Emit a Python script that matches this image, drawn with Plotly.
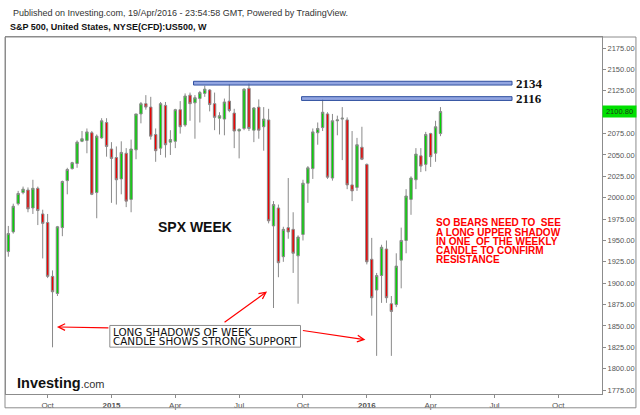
import pandas as pd
import plotly.graph_objects as go

# weekly S&P 500 CFD candles, first week starts 2014-08-11
week_start = "2014-08-11"
opens = [1937, 1960, 1993, 2006, 2009, 1988, 2011, 1981, 1971, 1908,
         1888, 1965, 2020, 2034, 2040, 2066, 2067, 2076, 2006, 2070,
         2088, 2057, 2047, 2022, 2052, 1998, 2056, 2098, 2110, 2106,
         2074, 2058, 2108, 2065, 2066, 2103, 2085, 2120, 2111, 2116,
         2122, 2126, 2110, 2093, 2092, 2113, 2099, 2078, 2081, 2128,
         2079, 2106, 2083, 2091, 1967, 1988, 1931, 1965, 1963, 1932,
         1957, 2017, 2034, 2076, 2082, 2098, 2023, 2090, 2092, 2091,
         2015, 2012, 2059, 2039, 1928, 1892, 1909, 1940, 1876, 1875,
         1927, 1950, 1998, 2021, 2049, 2039, 2075, 2052, 2075]
highs = [1967, 1993, 2008, 2013, 2012, 2021, 2013, 1986, 1981, 1915,
         1967, 2020, 2035, 2042, 2067, 2078, 2081, 2078, 2074, 2093,
         2093, 2065, 2060, 2066, 2058, 2068, 2098, 2112, 2120, 2118,
         2081, 2112, 2112, 2079, 2104, 2113, 2122, 2123, 2120, 2125,
         2131, 2127, 2123, 2100, 2116, 2133, 2104, 2081, 2128, 2134,
         2106, 2115, 2106, 2104, 1996, 1992, 1966, 2023, 1983, 1956,
         2021, 2037, 2081, 2088, 2115, 2100, 2098, 2096, 2106, 2094,
         2078, 2070, 2083, 2040, 1953, 1912, 1945, 1950, 1885, 1935,
         1965, 2010, 2025, 2058, 2058, 2077, 2076, 2090, 2106]
lows = [1931, 1958, 1991, 2004, 1983, 1981, 1968, 1929, 1906, 1825,
        1885, 1955, 2004, 2033, 2035, 2065, 2052, 2003, 1976, 2069,
        2048, 1994, 1992, 2004, 1989, 1983, 2045, 2087, 2103, 2068,
        2042, 2050, 2047, 2050, 2058, 2075, 2083, 2090, 2069, 2088,
        2118, 2101, 2079, 2074, 2073, 2100, 2058, 2046, 2079, 2078,
        2065, 2069, 2055, 1970, 1871, 1907, 1925, 1952, 1912, 1876,
        1950, 1994, 2022, 2062, 2078, 2022, 2020, 2073, 2044, 2010,
        1996, 2008, 2044, 1922, 1862, 1815, 1877, 1877, 1815, 1872,
        1894, 1935, 1980, 2010, 2030, 2031, 2036, 2042, 2072]
closes = [1958, 1990, 2005, 2010, 1987, 2011, 1985, 1970, 1908, 1890,
          1966, 2019, 2033, 2041, 2065, 2069, 2077, 2004, 2072, 2090,
          2060, 2046, 2021, 2053, 1996, 2057, 2098, 2110, 2106, 2072,
          2055, 2110, 2062, 2068, 2103, 2083, 2119, 2110, 2117, 2123,
          2127, 2109, 2094, 2096, 2112, 2102, 2078, 2080, 2127, 2081,
          2105, 2079, 2092, 1973, 1992, 1924, 1963, 1960, 1935, 1954,
          2017, 2035, 2077, 2081, 2100, 2024, 2090, 2091, 2093, 2015,
          2008, 2062, 2045, 1925, 1883, 1909, 1942, 1883, 1867, 1920,
          1950, 2002, 2023, 2051, 2037, 2074, 2048, 2083, 2100.8]
dates = pd.date_range(week_start, periods=len(opens), freq="7D")

tick_dates = ["2014-10-06", "2015-01-05", "2015-04-06", "2015-07-06", "2015-10-05",
              "2016-01-04", "2016-04-04", "2016-07-04", "2016-10-03"]
tick_labels = ["Oct", "<b>2015</b>", "Apr", "Jul", "Oct", "<b>2016</b>", "Apr", "Jul", "Oct"]
price_ticks = [1775, 1800, 1825, 1850, 1875, 1900, 1925, 1950, 1975, 2000,
               2025, 2050, 2075, 2125, 2150, 2175]
last_price = 2100.80
levels = [2134, 2116]
level_starts = ["2015-05-02", "2015-10-03"]
level_end = "2016-07-29"

note_lines = ["SO BEARS NEED TO\u00a0\u00a0SEE", "A LONG UPPER SHADOW",
              "IN ONE\u00a0\u00a0OF THE WEEKLY", "CANDLE TO CONFIRM", "RESISTANCE"]
box_lines = ["LONG SHADOWS OF WEEK", "CANDLE SHOWS STRONG SUPPORT"]

W, H = 640, 415
L, R, T, B = 5, 602, 37, 399


def px(x):
    return (x - L) / (R - L)


def py(y):
    return (B - y) / (B - T)


SANS = "Liberation Sans, Arial, sans-serif"

fig = go.Figure()
fig.add_trace(go.Candlestick(
    x=dates, open=opens, high=highs, low=lows, close=closes,
    increasing=dict(fillcolor="#00d400", line=dict(color="#8a8a8a", width=1)),
    decreasing=dict(fillcolor="#ee0000", line=dict(color="#8a8a8a", width=1)),
    whiskerwidth=0, showlegend=False, hoverinfo="skip",
))

shapes = []
for lv, st in zip(levels, level_starts):
    shapes.append(dict(type="rect", xref="x", yref="y", x0=st, x1=level_end,
                       y0=lv - 2.2, y1=lv + 2.2,
                       fillcolor="rgba(110,135,215,0.75)",
                       line=dict(color="#2f4f9f", width=1)))
# outer frame
shapes.append(dict(type="rect", xref="paper", yref="paper",
                   x0=px(4), x1=px(636), y0=py(413), y1=py(37),
                   line=dict(color="#8c8c8c", width=1)))
# support note box
shapes.append(dict(type="rect", xref="paper", yref="paper",
                   x0=px(109), x1=px(300), y0=py(351.5), y1=py(329.5),
                   fillcolor="white", line=dict(color="#8c8c8c", width=1)))

ann = []
ann.append(dict(xref="paper", yref="paper", x=px(10), y=py(13), xanchor="left",
                yanchor="middle", showarrow=False,
                text="Published on Investing.com, 19/Apr/2016 - 23:54:58 GMT, Powered by TradingView.",
                font=dict(family=SANS, size=9, color="#333333")))
ann.append(dict(xref="paper", yref="paper", x=px(7), y=py(27), xanchor="left",
                yanchor="middle", showarrow=False,
                text="<b>S&P 500, United States, NYSE(CFD):US500, W</b>",
                font=dict(family=SANS, size=9, color="#111111")))
ann.append(dict(xref="paper", yref="paper", x=px(155), y=py(230), xanchor="left",
                yanchor="middle", showarrow=False, text="<b>SPX WEEK</b>",
                font=dict(family=SANS, size=14, color="#111111")))
for i, line in enumerate(note_lines):
    ann.append(dict(xref="paper", yref="paper", x=px(434), y=py(225.5 + 9.3 * i),
                    xanchor="left", yanchor="middle", showarrow=False,
                    text="<b>" + line + "</b>",
                    font=dict(family=SANS, size=10, color="#ff0000")))
for i, line in enumerate(box_lines):
    ann.append(dict(xref="paper", yref="paper", x=px(110), y=py(336 + 9.3 * i),
                    xanchor="left", yanchor="middle", showarrow=False, text=line,
                    font=dict(family="DejaVu Sans, Verdana, sans-serif", size=10.4,
                              color="#111111")))
for lv in levels:
    ann.append(dict(xref="paper", yref="y", x=px(514), y=lv, xanchor="left",
                    yanchor="middle", showarrow=False, text="<b>%d</b>" % lv,
                    font=dict(family="Liberation Serif, Times New Roman, serif",
                              size=13, color="#111111")))
# arrows from the note box
for hx, hy, ax, ay in [(56, 331, 53, 1), (266.5, 295, -44, 32), (365, 344, -64, -9.5)]:
    ann.append(dict(xref="paper", yref="paper", x=px(hx), y=py(hy), ax=ax, ay=ay,
                    showarrow=True, arrowhead=5, arrowsize=1.1, arrowwidth=1.2,
                    arrowcolor="#ff0000", text=""))
# last price tag
ann.append(dict(xref="paper", yref="y", x=1, y=last_price, xanchor="left",
                yanchor="middle", showarrow=False, text="%.2f" % last_price,
                bgcolor="#00e000", borderpad=1, width=31, align="center",
                font=dict(family=SANS, size=7.5, color="#1a3a1a")))
# logo
ann.append(dict(xref="paper", yref="paper", x=px(14), y=py(388), xanchor="left",
                yanchor="middle", showarrow=False,
                text="<b>Investing</b><span style='font-size:11px;color:#333333'>.com</span>",
                font=dict(family=SANS, size=14.5, color="#111111")))

fig.update_layout(
    width=W, height=H,
    margin=dict(l=L, r=W - R, t=T, b=H - B),
    paper_bgcolor="white", plot_bgcolor="white",
    showlegend=False,
    shapes=shapes, annotations=ann,
    xaxis=dict(type="date", range=["2014-08-07 16:00", "2016-12-04 06:00"],
               rangeslider=dict(visible=False), showgrid=False, zeroline=False,
               tickmode="array", tickvals=tick_dates, ticktext=tick_labels,
               ticks="outside", ticklen=3, tickcolor="#8c8c8c",
               showline=True, linecolor="#8c8c8c", linewidth=1, mirror=True,
               tickfont=dict(family=SANS, size=8, color="#555555")),
    yaxis=dict(range=[1770.4, 2188], side="right", showgrid=False, zeroline=False,
               tickmode="array", tickvals=price_ticks, tickformat=".2f",
               ticks="outside", ticklen=3, tickcolor="#8c8c8c",
               showline=True, linecolor="#8c8c8c", linewidth=1, mirror=True,
               tickfont=dict(family=SANS, size=7.5, color="#555555")),
)

# the page body has a default 8px margin; drop it so the figure sits at 0,0
fig.write_html("out.html", config={"displayModeBar": False},
               post_script="document.body.style.margin='0px';")
